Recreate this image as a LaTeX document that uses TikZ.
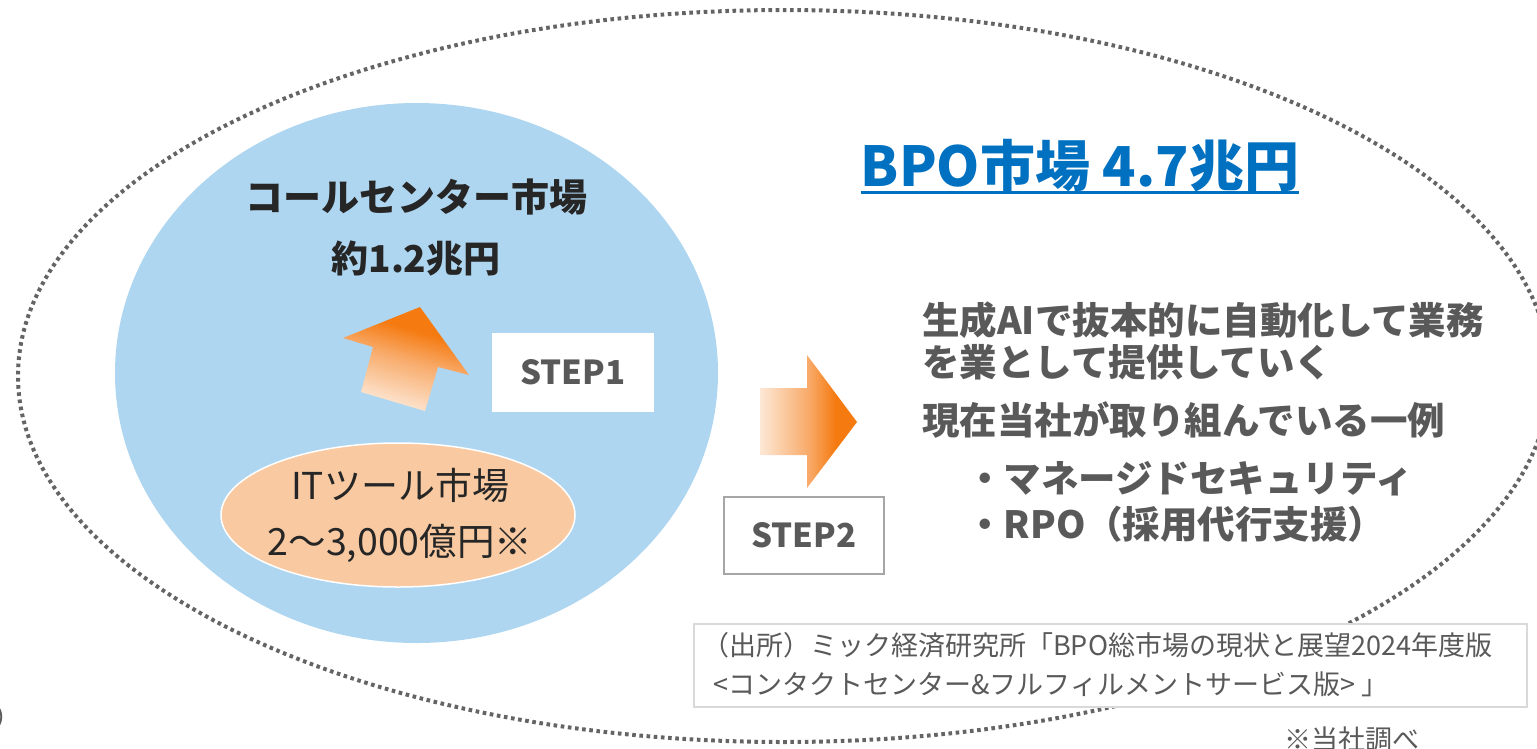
\documentclass[tikz,border=0pt]{standalone}
\usepackage{fontspec}
\setmainfont{Noto Sans CJK JP}
\definecolor{bluefill}{RGB}{174,214,240}
\definecolor{peach}{RGB}{249,202,162}
\definecolor{orcol}{RGB}{245,122,16}
\definecolor{midor}{RGB}{248,170,105}
\definecolor{palecol}{RGB}{253,232,214}
\definecolor{txtgray}{RGB}{89,89,89}
\definecolor{txtdark}{RGB}{38,38,38}
\definecolor{dotgray}{RGB}{100,100,100}
\definecolor{titleblue}{RGB}{0,112,192}
\definecolor{boxgray}{RGB}{166,166,166}
\definecolor{srcgray}{RGB}{217,217,217}
\pgfdeclarehorizontalshading{arrR}{100bp}{color(0bp)=(palecol); color(25bp)=(palecol); color(50bp)=(midor); color(64bp)=(orcol); color(100bp)=(orcol)}
\pgfdeclareverticalshading{arrU}{100bp}{color(0bp)=(palecol); color(27bp)=(palecol); color(50bp)=(midor); color(64bp)=(orcol); color(100bp)=(orcol)}
\tikzset{
  jp/.style={inner sep=0pt, text height=#1*0.88pt, text depth=#1*0.12pt, font=\fontsize{#1}{#1}\selectfont},
  jpb/.style={jp=#1, font=\fontsize{#1}{#1}\selectfont\bfseries},
  stepbox/.style={draw=#1, fill=white, line width=2pt, minimum width=160pt, minimum height=77pt, inner sep=0pt,
    text height=23pt, text depth=0pt, text=txtgray, font=\fontsize{33}{33}\selectfont\bfseries},
  dotline/.style={draw=dotgray, line width=4pt, dash pattern=on 3.6pt off 3.6pt},
}
\begin{document}
\begin{tikzpicture}[x=1pt,y=-1pt]
\useasboundingbox (0,0) rectangle (1537,748);
\clip (0,0) rectangle (1537,748);
% outer dotted ellipse
\draw[dotline] (784,376) ellipse [x radius=766, y radius=366];
% call center market circle
\fill[bluefill] (416.5,373) ellipse [x radius=301.5, y radius=270];
% IT tool ellipse
\draw[white, line width=1.5pt, fill=peach] (398,515) ellipse [x radius=177, y radius=72];
% up arrow (step1)
\shade[shading=arrU, shading angle=-16]
  (420,307) -- (469,375) -- (438,367) -- (425,411) -- (361,392) -- (373,347) -- (343,338) -- cycle;
% right arrow (step2)
\shade[shading=arrR]
  (760,388) -- (807,388) -- (807,355) -- (857,422) -- (807,488) -- (807,455) -- (760,455) -- cycle;
% texts in circle
\node[jpb=38, text=txtdark] (callc) at (416,197) {コールセンター市場};
\node[jpb=37, text=txtdark] (callv) at (416,258) {約1.2兆円};
\node[jp=37, text=txtdark] (ittxt) at (400,485) {ITツール市場};
\node[jp=37.5, text=txtdark] (itval) at (400,541) {2～3,000億円※};
% step boxes
\node[stepbox=white] (step1) at (573,372.5) {STEP1};
\node[stepbox=boxgray] (step2) at (804,535.5) {STEP2};
% title
\node[jpb=55, text=titleblue] (title) at (1080,166) {BPO市場 4.7兆円};
\draw[titleblue, line width=3pt] ([yshift=-6pt]title.base west) -- ([yshift=-6pt]title.base east);
% right text block
\node[jpb=37.5, text=txtgray, anchor=west] (r1) at (922,320) {生成AIで抜本的に自動化して業務};
\node[jpb=37.5, text=txtgray, anchor=west] (r2) at (922,362) {を業として提供していく};
\node[jpb=37.5, text=txtgray, anchor=west] (r3) at (922,420) {現在当社が取り組んでいる一例};
\node[jpb=37.5, text=txtgray, anchor=west] (r4) at (966,478) {・マネージドセキュリティ};
\node[jpb=37.5, text=txtgray, anchor=west] (r5) at (966,524) {・RPO（採用代行支援）};
% source box
\node[draw=srcgray, fill=white, line width=2pt, minimum width=833pt, minimum height=83pt, inner sep=0pt] (src) at (1110.5,665.5) {};
\node[jp=27, text=txtgray, anchor=west] (s1) at (702,645) {（出所）ミック経済研究所「BPO総市場の現状と展望2024年度版};
\node[jp=27, text=txtgray, anchor=west] (s2) at (713,684) {<コンタクトセンター\&フルフィルメントサービス版> 」};
% notes
\node[jp=27, text=txtgray] (note) at (1352,739) {※当社調べ};
\node[jp=27, text=txtgray, anchor=west] (paren) at (-6,717) {）};
\end{tikzpicture}
\end{document}
